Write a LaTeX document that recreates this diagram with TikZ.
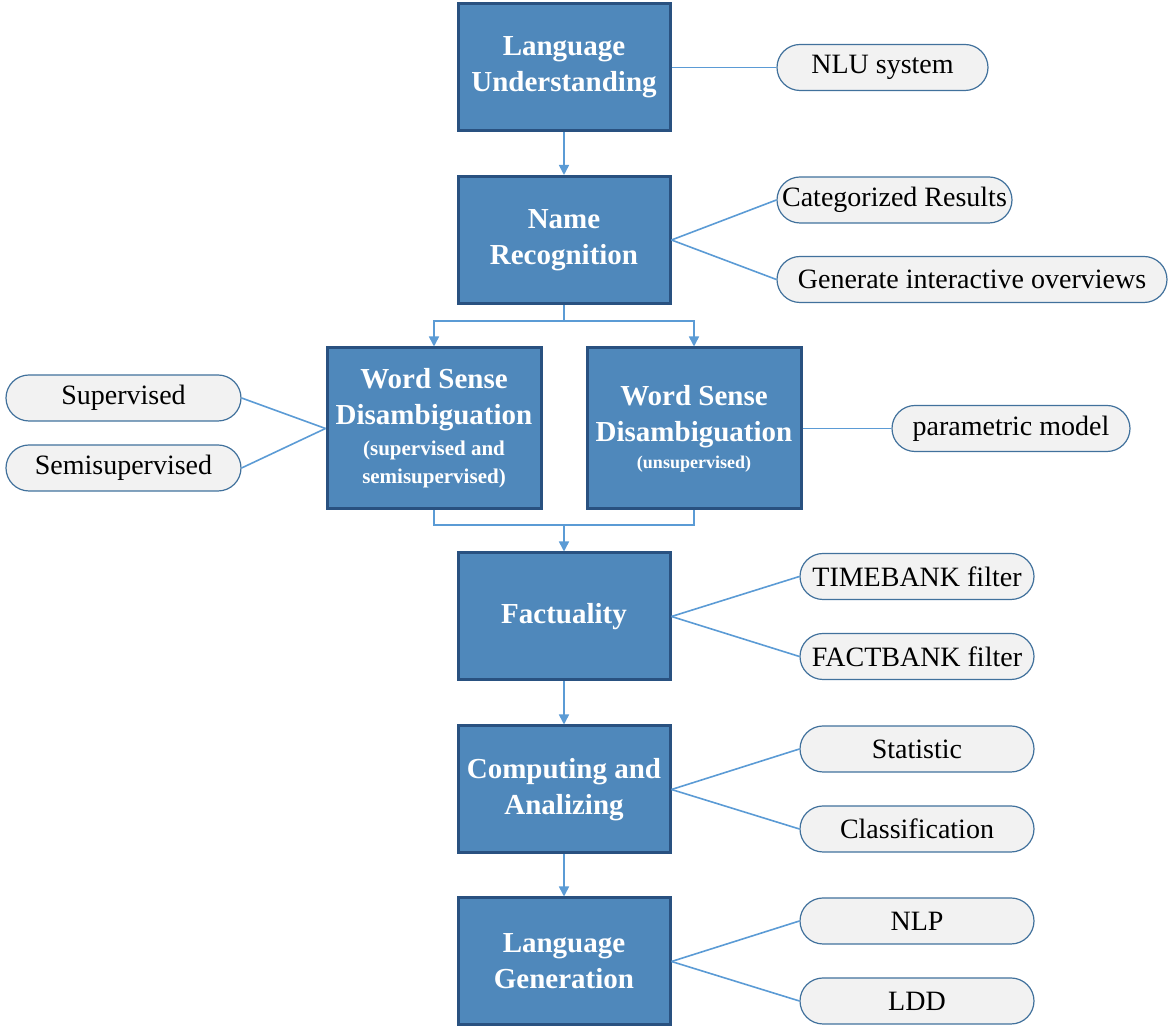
\documentclass[tikz,border=0pt]{standalone}
\usepackage{fontspec}
\setmainfont{Liberation Serif}
\usepackage{xcolor}
\usepackage{tikz}
\usetikzlibrary{shapes, arrows.meta, positioning}

\definecolor{boxfill}{RGB}{79,136,187}
\definecolor{boxline}{RGB}{41,81,128}
\definecolor{linkblue}{RGB}{91,155,213}
\definecolor{pillfill}{RGB}{242,242,242}
\definecolor{pillline}{RGB}{65,113,156}

\newcommand{\subtxt}[1]{{\fontsize{10.5}{12}\selectfont #1}}
\newcommand{\smalltxt}[1]{{\fontsize{9}{11}\selectfont #1}}

\begin{document}
\begin{tikzpicture}[x=0.5pt, y=-0.5pt,
            box/.style={draw=boxline, line width=1.5pt, fill=boxfill, text=white, rectangle, minimum width=106pt, minimum height=63.5pt, align=center, inner sep=2pt, font=\fontsize{14.5}{18}\selectfont\bfseries},
            wsd/.style={box, minimum width=107pt, minimum height=80.5pt},
            pill/.style={draw=pillline, line width=0.6pt, fill=pillfill, rectangle, rounded corners=11.5pt, minimum height=23pt, inner sep=2pt, font=\fontsize{14}{16}\selectfont},
            link/.style={draw=linkblue, line width=0.8pt},
            arr/.style={link, -{Triangle[length=5pt, width=5pt]}}]
            \useasboundingbox (0,0) rectangle (1175,1036);

            % main column
            \node[box] (lu) at (564,67.5) {Language\\Understanding};
            \node[box] (nr) at (564,240) {Name\\Recognition};
            \node[wsd] (wsd1) at (434,428.5) {Word Sense\\Disambiguation\\[-2.5pt]\subtxt{(supervised and}\\[-4pt]\subtxt{semisupervised)}};
            \node[wsd] (wsd2) at (694,428.5) {Word Sense\\Disambiguation\\[-4.5pt]\smalltxt{(unsupervised)}};
            \node[box] (fact) at (564,616.5) {Factuality};
            \node[box] (ca) at (564,789.5) {Computing and\\Analizing};
            \node[box] (lg) at (564,961.5) {Language\\Generation};

            % side items
            \node[pill, minimum width=105.5pt] (nlu) at (882.5,67.5) {NLU system};
            \node[pill, minimum width=117.5pt] (cat) at (894.5,200) {Categorized Results};
            \node[pill, minimum width=195pt] (gen) at (972,279.5) {Generate interactive overviews};
            \node[pill, minimum width=117.5pt] (sup) at (123.5,398) {Supervised};
            \node[pill, minimum width=117.5pt] (semi) at (123.5,468) {Semisupervised};
            \node[pill, minimum width=119pt] (param) at (1011,428.5) {parametric model};
            \node[pill, minimum width=117pt] (tb) at (917,576.5) {TIMEBANK filter};
            \node[pill, minimum width=117pt] (fb) at (917,656.5) {FACTBANK filter};
            \node[pill, minimum width=117pt] (stat) at (917,749) {Statistic};
            \node[pill, minimum width=117pt] (cls) at (917,829) {Classification};
            \node[pill, minimum width=117pt] (nlp) at (917,921) {NLP};
            \node[pill, minimum width=117pt] (ldd) at (917,1001) {LDD};

            \coordinate (join) at (564,525);

            % flow
            \draw[arr] (lu) -- (nr);
            \draw[arr] (nr.south) -- ++(0,16) -| (wsd1.north);
            \draw[arr] (nr.south) -- ++(0,16) -| (wsd2.north);
            \draw[link] (wsd1.south) |- (join) -| (wsd2.south);
            \draw[arr] (join) -- (fact.north);
            \draw[arr] (fact) -- (ca);
            \draw[arr] (ca) -- (lg);

            % side links
            \draw[link] (lu.east) -- (nlu.west);
            \draw[link] (nr.east) -- (cat.west);
            \draw[link] (nr.east) -- (gen.west);
            \draw[link] (wsd1.west) -- (sup.east);
            \draw[link] (wsd1.west) -- (semi.east);
            \draw[link] (wsd2.east) -- (param.west);
            \draw[link] (fact.east) -- (tb.west);
            \draw[link] (fact.east) -- (fb.west);
            \draw[link] (ca.east) -- (stat.west);
            \draw[link] (ca.east) -- (cls.west);
            \draw[link] (lg.east) -- (nlp.west);
            \draw[link] (lg.east) -- (ldd.west);
        \end{tikzpicture}
\end{document}
